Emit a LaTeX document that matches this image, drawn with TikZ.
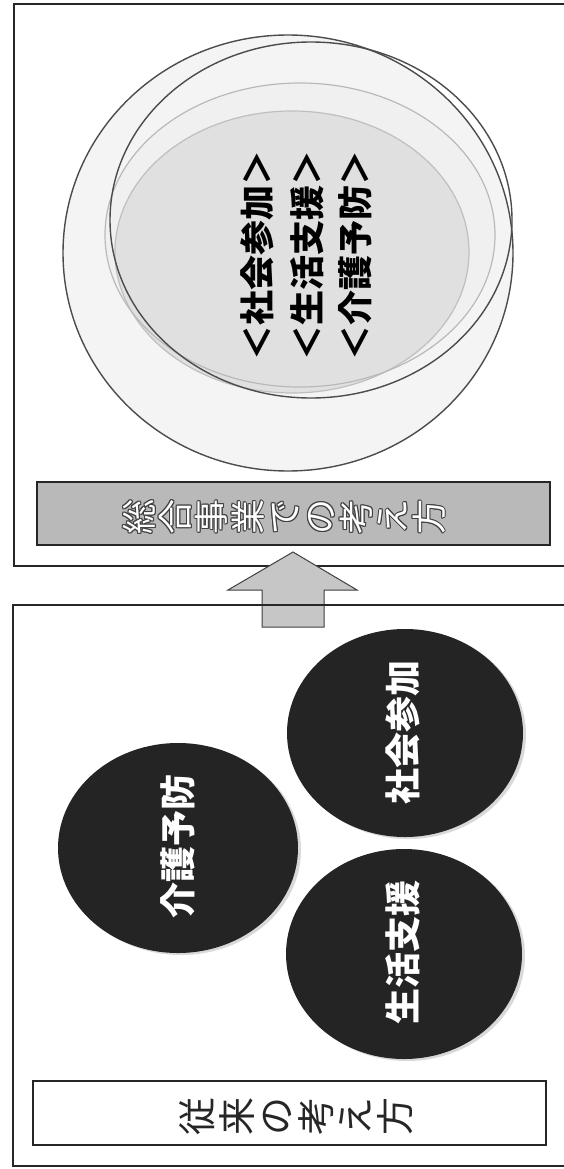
\documentclass[tikz,border=0pt]{standalone}
\usepackage{fontspec}
\newfontfamily\jp{Noto Sans CJK JP}
\tikzset{
  frame/.style={line width=2pt, draw=black!85},
  darkring/.style={draw=black!70, line width=1.4pt},
  lightring/.style={draw=gray!55, line width=1.2pt},
  darkdisc/.style={fill=black!86},
  discshadow/.style={fill=gray!30},
  disctext/.style={rotate=90, text=white, font=\jp\bfseries\fontsize{36}{36}\selectfont, inner sep=0pt},
  integtext/.style={rotate=90, text=black, font=\jp\bfseries\fontsize{35}{35}\selectfont, inner sep=0pt},
  bartext/.style={rotate=90, align=center, inner sep=0pt, font=\jp\fontsize{35}{36.2}\selectfont},
  labeltext/.style={rotate=90, align=center, inner sep=0pt, text=black!85, font=\jp\fontsize{38}{39.5}\selectfont},
}
\begin{document}
\begin{tikzpicture}[x=1pt,y=-1pt]
\useasboundingbox (0,0) rectangle (563,1169);
\fill[white] (0,0) rectangle (563,1169);

% ---------- top panel ----------
\draw[frame] (566,4) -- (14,4) -- (14,566) -- (566,566);

% overlapping rings
\fill[gray!9] (288,253) ellipse [x radius=225pt, y radius=218pt];
\fill[gray!12] (300,235) ellipse [x radius=195pt, y radius=152pt];
\filldraw[fill=gray!24, draw=gray!50, line width=1.2pt] (292,252) ellipse [x radius=177pt, y radius=141pt];
\draw[lightring] (300,235) ellipse [x radius=195pt, y radius=152pt];
\draw[darkring] (288,253) ellipse [x radius=225pt, y radius=218pt];
\draw[darkring] (311,220) ellipse [x radius=201pt, y radius=178pt];

\node[integtext] (t1) at (257,255) {＜社会参加＞};
\node[integtext] (t2) at (307,255) {＜生活支援＞};
\node[integtext] (t3) at (355,255) {＜介護予防＞};

% bar
\node[draw=black!85, line width=2pt, fill=gray!55, minimum width=513pt, minimum height=63pt, inner sep=0pt] (bar) at (293.5,513.5) {};
\foreach \dx/\dy in {-1/0,1/0,0/-1,0/1,0.75/0.75,-0.75/-0.75,0.75/-0.75,-0.75/0.75}{
  \node[bartext, text=black!75] at (284+\dx,517+\dy) {総\\合\\事\\業\\で\\の\\考\\え\\方};
}
\node[bartext, text=white] (bartitle) at (284,517) {総\\合\\事\\業\\で\\の\\考\\え\\方};

% arrow
\filldraw[fill=gray!45, draw=black!75, line width=1pt, line join=miter]
  (293,552) -- (357,590) -- (324,590) -- (324,627) -- (262,627) -- (262,590) -- (228,590) -- cycle;

% ---------- bottom panel ----------
\draw[frame] (566,605) -- (13,605) -- (13,1166) -- (566,1166);

\fill[discshadow] (181,850) ellipse [x radius=120pt, y radius=105pt];
\fill[discshadow] (408,735) ellipse [x radius=118pt, y radius=104pt];
\fill[discshadow] (407,956) ellipse [x radius=118pt, y radius=105pt];
\fill[darkdisc] (178,848) ellipse [x radius=120pt, y radius=105pt];
\fill[darkdisc] (405,733) ellipse [x radius=118pt, y radius=104pt];
\fill[darkdisc] (404,954) ellipse [x radius=118pt, y radius=105pt];
\node[disctext] (kaigo) at (178,846) {介護予防};
\node[disctext] (shakai) at (403,732) {社会参加};
\node[disctext] (seikatsu) at (403,952) {生活支援};

% label box
\node[draw=black!85, line width=1.6pt, minimum width=513pt, minimum height=64pt, inner sep=0pt] (oldbox) at (289.5,1113) {};
\node[labeltext] (oldtitle) at (296,1116) {従\\来\\の\\考\\え\\方};
\end{tikzpicture}
\end{document}
